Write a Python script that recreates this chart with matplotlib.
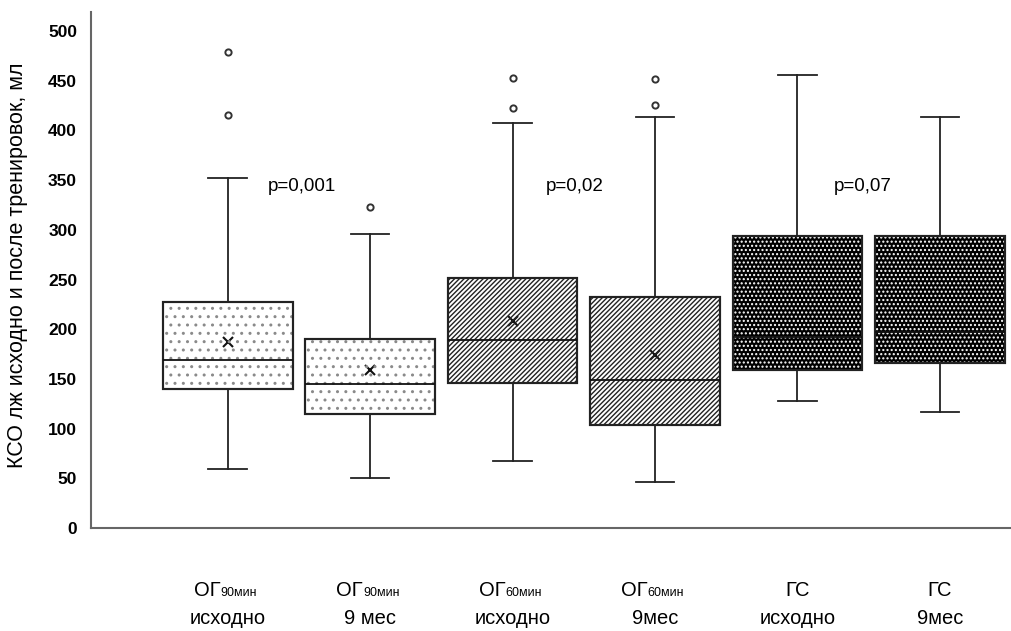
import matplotlib
matplotlib.use("Agg")
import matplotlib.pyplot as plt
from matplotlib.patches import PathPatch
from matplotlib.transforms import blended_transform_factory

# box statistics (КСО, мл)
groups = ["ОГ90 исх", "ОГ90 9м", "ОГ60 исх", "ОГ60 9м", "ГС исх", "ГС 9м"]
whis_lo = [59, 50, 68, 46, 128, 117]
q1 = [140, 115, 146, 104, 159, 166]
median = [169, 145, 189, 149, 192, 197]
q3 = [227, 190, 252, 232, 294, 294]
whis_hi = [352, 296, 407, 413, 456, 413]
means = [187, 159, 208, 174, 234, 232]
outliers = [[415, 479], [323], [422, 453], [425, 452], [], []]

label_top = ["ОГ", "ОГ", "ОГ", "ОГ", "ГС", "ГС"]
label_sub = ["90мин", "90мин", "60мин", "60мин", "", ""]
label_bottom = ["исходно", "9 мес", "исходно", "9мес", "исходно", "9мес"]

p_text = ["p=0,001", "p=0,02", "p=0,07"]
p_x = [1.52, 3.44, 5.46]
p_y = 344

yticks = [0, 50, 100, 150, 200, 250, 300, 350, 400, 450, 500]

plt.rcParams['font.family'] = ['Liberation Sans', 'DejaVu Sans']

fig = plt.figure(figsize=(10.11, 6.31), dpi=100)
ax = fig.add_axes([0.09, 0.163, 0.91, 0.818])

stats = []
for i in range(len(groups)):
    stats.append(dict(med=median[i], q1=q1[i], q3=q3[i], whislo=whis_lo[i],
                      whishi=whis_hi[i], mean=means[i], fliers=outliers[i]))

pos = list(range(1, len(groups) + 1))
bp = ax.bxp(stats, positions=pos, widths=0.91, patch_artist=True,
            showmeans=True, showfliers=True, capwidths=0.27,
            boxprops=dict(facecolor='white', edgecolor='#222222', linewidth=1.5),
            medianprops=dict(color='#111111', linewidth=1.3),
            whiskerprops=dict(color='#222222', linewidth=1.3),
            capprops=dict(color='#222222', linewidth=1.3),
            meanprops=dict(marker='x', markeredgecolor='#111111',
                           markersize=7, markeredgewidth=1.5),
            flierprops=dict(marker='o', markersize=4.5, markerfacecolor='white',
                            markeredgecolor='#333333', markeredgewidth=1.4))

# fills / hatches
hatch_style = [('white', '#8a8a8a', '..'), ('white', '#8a8a8a', '..'),
               ('white', '#222222', '///////'), ('white', '#222222', '///////'),
               ('black', 'white', '....'), ('black', 'white', '....')]
for patch, (fc, hc, h) in zip(bp['boxes'], hatch_style):
    patch.set_facecolor(fc)
    overlay = PathPatch(patch.get_path(), transform=patch.get_transform(),
                        facecolor='none', edgecolor=hc, hatch=h, linewidth=0,
                        zorder=patch.get_zorder() + 0.1)
    ax.add_patch(overlay)
    outline = PathPatch(patch.get_path(), transform=patch.get_transform(),
                        facecolor='none', edgecolor='#222222', linewidth=1.5,
                        zorder=patch.get_zorder() + 0.2)
    ax.add_patch(outline)
for m in bp['medians']:
    m.set_zorder(5)
for m in bp['means'][4:]:
    m.set_visible(False)

ax.set_xlim(0.04, 6.5)
ax.set_ylim(0, 519)
ax.set_yticks(yticks)
ax.set_yticklabels([str(v) for v in yticks], fontweight='bold', fontsize=12.5,
                   family=['Liberation Sans Narrow', 'Liberation Sans'])
ax.tick_params(axis='y', length=0, pad=10)
ax.set_xticks([])
for s in ['top', 'right']:
    ax.spines[s].set_visible(False)
for s in ['left', 'bottom']:
    ax.spines[s].set_color('#666666')
    ax.spines[s].set_linewidth(1.5)

ax.set_ylabel("КСО лж исходно и после тренировок, мл", fontsize=15.5)
ax.yaxis.set_label_coords(-0.068, 0.51)

for x, t in zip(p_x, p_text):
    ax.text(x, p_y, t, fontsize=13.5, ha='center', va='center')

trans = blended_transform_factory(ax.transData, fig.transFigure)
for x, top, sub, bot in zip(pos, label_top, label_sub, label_bottom):
    if sub:
        ax.text(x - 0.05, 1 - 590 / 631, top, transform=trans, fontsize=14.5,
                ha='right', va='center')
        ax.text(x - 0.05, 1 - 593 / 631, sub, transform=trans, fontsize=9,
                ha='left', va='center')
    else:
        ax.text(x, 1 - 590 / 631, top, transform=trans, fontsize=14.5,
                ha='center', va='center')
    ax.text(x, 1 - 618 / 631, bot, transform=trans, fontsize=14.5,
            ha='center', va='center')

plt.savefig('out.png', dpi=100)
